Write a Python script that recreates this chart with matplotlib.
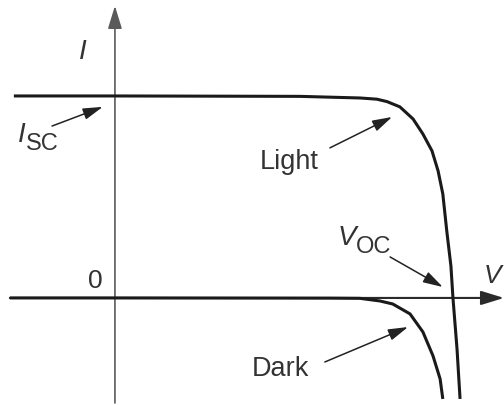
import matplotlib
matplotlib.use("Agg")
import matplotlib.pyplot as plt
from matplotlib.patches import FancyArrowPatch

plt.rcParams['font.family'] = ['Liberation Sans', 'DejaVu Sans']

# I-V curves, voltage normalised to V_OC, current normalised to I_SC
light_v = [-0.299, 0.0, 0.547, 0.725, 0.775, 0.805, 0.843, 0.882, 0.911, 0.938,
           0.956, 0.970, 0.982, 0.994, 1.0, 1.012, 1.021]
light_i = [1.0, 1.0, 0.998, 0.990, 0.984, 0.972, 0.946, 0.886, 0.812, 0.728,
           0.629, 0.515, 0.327, 0.158, 0.0, -0.252, -0.500]

dark_v = [-0.311, 0.0, 0.636, 0.725, 0.784, 0.822, 0.873, 0.911, 0.941,
          0.962, 0.970]
dark_i = [0.0, 0.0, -0.001, -0.002, -0.015, -0.030, -0.079, -0.168, -0.287,
          -0.401, -0.500]

curve_col = '#1a1a1a'
text_col = '#333333'

fig = plt.figure(figsize=(5.04, 4.06), dpi=100)
ax = fig.add_axes([0, 0, 1, 1])
ax.set_xlim(-0.340, 1.151)
ax.set_ylim(-0.530, 1.480)
ax.axis('off')

def arrow(p0, p1, lw, col, hl, hw):
    a = FancyArrowPatch(p0, p1, arrowstyle=f'-|>,head_length={hl},head_width={hw}',
                        mutation_scale=1, lw=lw, color=col, shrinkA=0, shrinkB=0)
    ax.add_patch(a)

# axes with arrow heads
arrow((0, -0.52), (0, 1.446), 1.2, '#5a5a5a', 14, 4.3)
arrow((-0.311, 0), (1.151, 0), 1.5, '#2a2a2a', 14, 4.3)

ax.plot(dark_v, dark_i, color=curve_col, lw=2.2, solid_capstyle='butt')
ax.plot(light_v, light_i, color=curve_col, lw=2.2, solid_capstyle='butt')

# axis labels
ax.text(-0.107, 1.188, 'I', fontsize=20, style='italic', color=text_col)
ax.text(-0.059, 0.054, '0', fontsize=19, ha='center', color=text_col)
ax.text(1.090, 0.079, 'V', fontsize=19, style='italic', color=text_col)

# I_SC
ax.text(-0.287, 0.777, 'I', fontsize=20, style='italic', color=text_col)
ax.text(-0.262, 0.738, 'SC', fontsize=17, color=text_col)
arrow((-0.186, 0.851), (-0.036, 0.946), 1.1, '#222222', 12, 3.5)

# V_OC
ax.text(0.660, 0.267, 'V', fontsize=20, style='italic', color=text_col)
ax.text(0.713, 0.228, 'OC', fontsize=17, color=text_col)
arrow((0.814, 0.203), (0.970, 0.054), 1.1, '#222222', 12, 3.5)

# curve labels
ax.text(0.515, 0.644, 'Light', fontsize=19.5, ha='center', color=text_col)
arrow((0.636, 0.743), (0.820, 0.896), 1.1, '#222222', 12, 3.5)
ax.text(0.491, -0.381, 'Dark', fontsize=19.5, ha='center', color=text_col)
arrow((0.621, -0.317), (0.867, -0.144), 1.1, '#222222', 12, 3.5)

fig.savefig('out.png', dpi=100)
